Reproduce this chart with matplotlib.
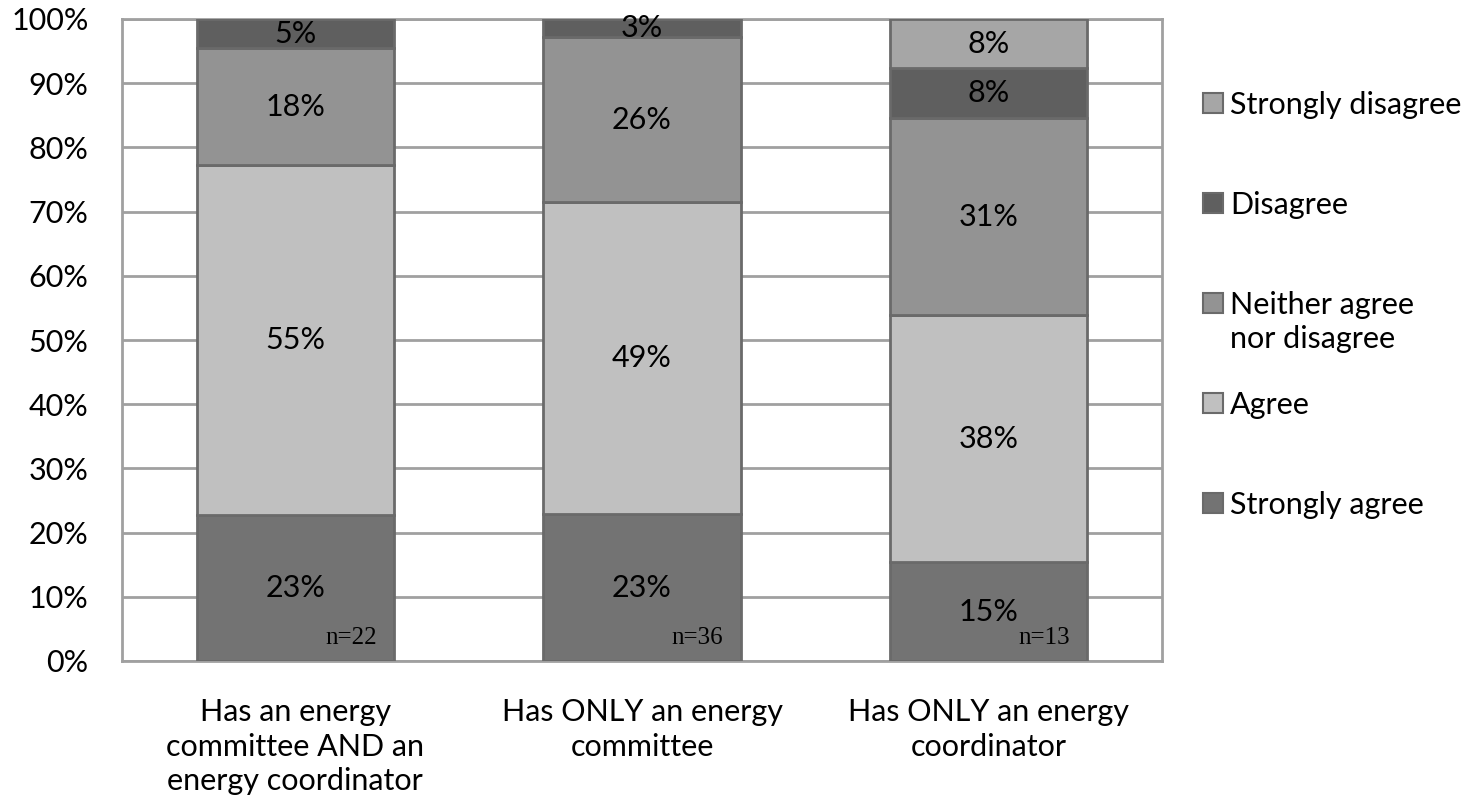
import matplotlib
matplotlib.use("Agg")
import matplotlib.pyplot as plt
from matplotlib.patches import Rectangle

categories = ["Has an energy\ncommittee AND an\nenergy coordinator",
              "Has ONLY an energy\ncommittee",
              "Has ONLY an energy\ncoordinator"]
series_names = ["Strongly agree", "Agree", "Neither agree\nnor disagree",
                "Disagree", "Strongly disagree"]
strongly_agree = [22.73, 22.86, 15.38]
agree = [54.55, 48.57, 38.46]
neither = [18.18, 25.71, 30.77]
disagree = [4.55, 2.86, 7.69]
strongly_disagree = [0.0, 0.0, 7.69]
n_labels = ["n=22", "n=36", "n=13"]
y_ticks = [0, 10, 20, 30, 40, 50, 60, 70, 80, 90, 100]

series = [strongly_agree, agree, neither, disagree, strongly_disagree]
colors = ["#737373", "#c0c0c0", "#939393", "#5f5f5f", "#a6a6a6"]
edge = "#6a6a6a"

plt.rcParams['font.family'] = ['Lato', 'DejaVu Sans']

W, H = 1483, 809
fig = plt.figure(figsize=(W / 100, H / 100), dpi=100)
ax = fig.add_axes([122/W, 1 - 661/H, (1162-122)/W, (661-19)/H])

x = list(range(len(categories)))
bottoms = [0.0] * len(categories)
for vals, col in zip(series, colors):
    ax.bar(x, vals, width=0.57, bottom=bottoms, color=col, edgecolor=edge,
           linewidth=2, zorder=3)
    for i, v in enumerate(vals):
        if v > 0:
            ax.text(x[i], bottoms[i] + v / 2, f"{v:.0f}%", ha="center",
                    va="center", fontsize=22, color="black", zorder=4)
    bottoms = [b + v for b, v in zip(bottoms, vals)]

for i, lab in enumerate(n_labels):
    ax.text(x[i] + 0.57 / 2 - 0.05, 3.6, lab, ha="right", va="center",
            fontsize=18, family="Liberation Serif", zorder=4)

ax.set_xlim(-0.5, 2.5)
ax.set_ylim(0, 100)
ax.set_yticks(y_ticks)
ax.set_yticklabels([f"{t}%" for t in y_ticks], fontsize=22)
ax.set_xticks(x)
ax.set_xticklabels(categories, fontsize=22, linespacing=1.28)
ax.tick_params(axis="y", length=0, pad=24)
ax.tick_params(axis="x", length=0, pad=27)
ax.yaxis.grid(True, color="#a0a0a0", linewidth=2, zorder=0)
ax.set_axisbelow(True)
for s in ax.spines.values():
    s.set_color("#a0a0a0")
    s.set_linewidth(2)

# legend (reverse order, top to bottom), positioned manually
leg_y = [103, 203, 303, 403, 503]
sq = 20
for yy, c, lab in zip(leg_y, colors[::-1], series_names[::-1]):
    fig.add_artist(Rectangle(((1203) / W, 1 - (yy + sq / 2) / H), sq / W, sq / H,
                             transform=fig.transFigure, facecolor=c,
                             edgecolor=edge, linewidth=1.5))
    fig.text(1230 / W, 1 - (yy - 12) / H, lab, ha="left", va="top",
             fontsize=22, linespacing=1.25)

fig.savefig("out.png", dpi=100)
